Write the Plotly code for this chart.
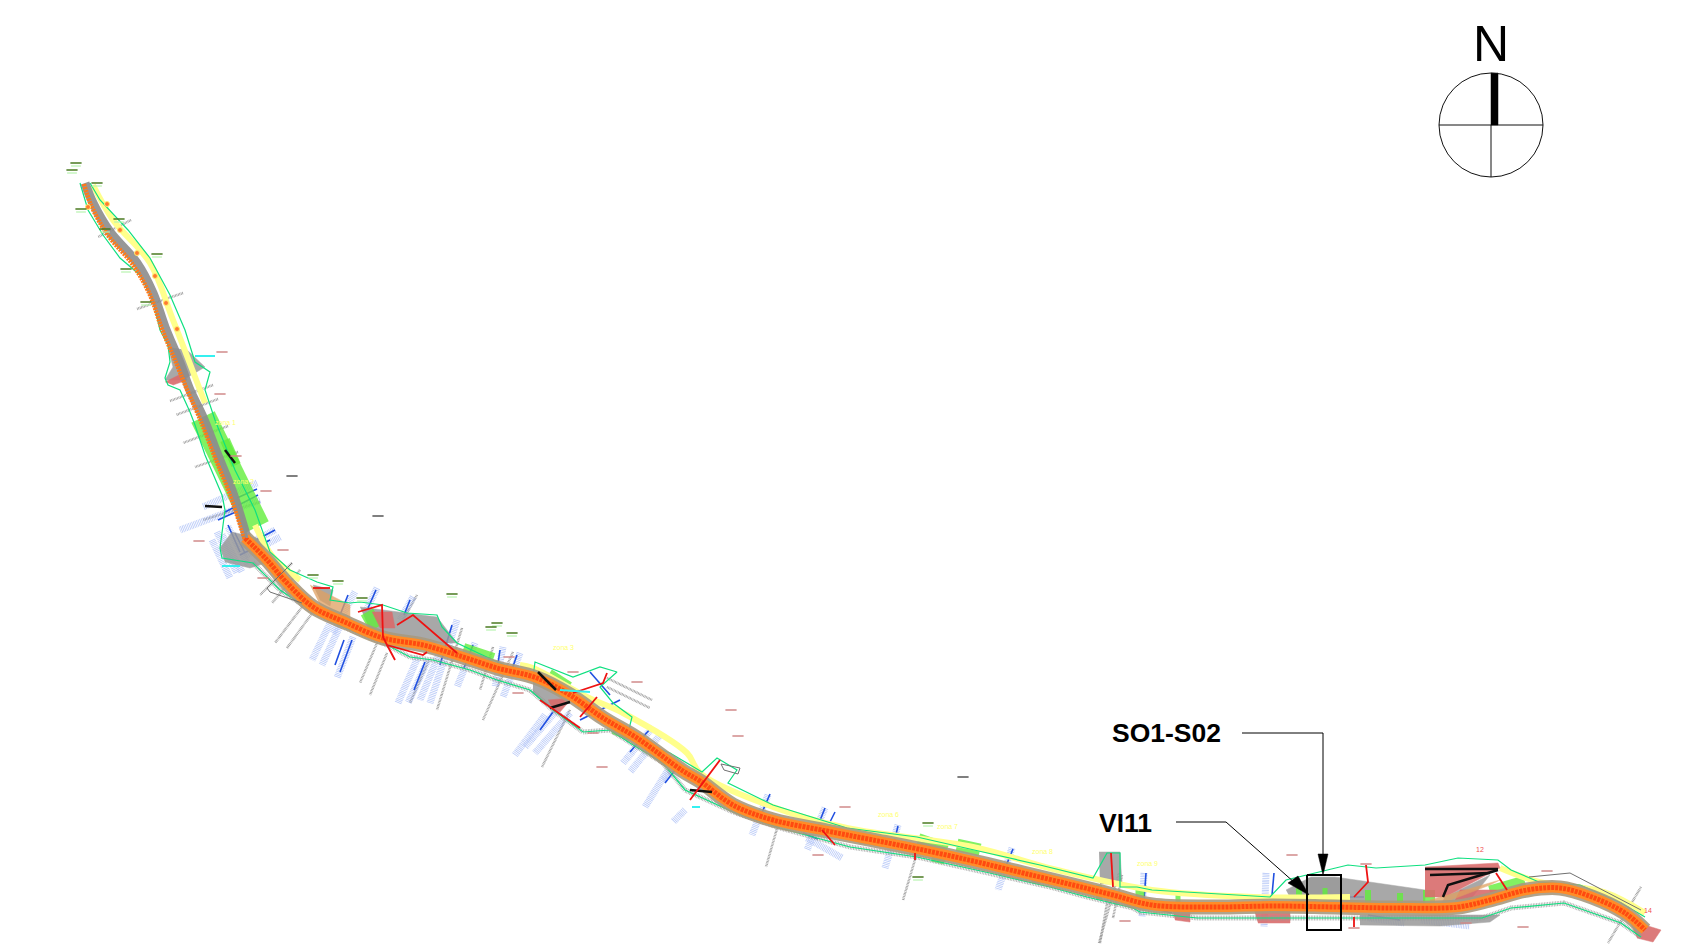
import plotly.graph_objects as go

# ---- road alignment (page pixels) ----
north_x = [85, 93, 110, 137, 153, 165, 180, 190, 203, 217, 233, 247]
north_y = [183, 203, 232, 263, 293, 327, 363, 390, 417, 453, 493, 538]
orange_north_x = [84, 91, 107, 133, 150, 162, 177, 188, 200, 214, 230, 245]
orange_north_y = [184, 205, 234, 265, 295, 329, 365, 392, 419, 455, 495, 540]
main_x = [245, 267, 287, 313, 347, 383, 423, 457, 497, 537, 570, 603, 637, 683, 700, 733, 773, 827, 873, 923,
          973, 1023, 1073, 1113, 1152, 1213, 1274, 1335, 1396, 1458, 1490, 1527, 1560, 1592, 1625, 1645]
main_y = [538, 560, 583, 607, 623, 638, 645, 655, 668, 678, 695, 718, 738, 771, 781, 805, 820, 831, 840, 850,
          861, 873, 885, 895, 905, 907, 906, 907, 908, 907, 900, 890, 888, 897, 913, 930]

yellow_x = [93, 113, 150, 173, 205, None, 255, 273, 300, None, 520, 533, 587, 623, 687, 700, 773, 847, 973, 1057,
            1152, 1254, 1350, None, 1500, 1539, 1604, 1645]
yellow_y = [185, 220, 263, 320, 403, None, 525, 557, 580, None, 665, 668, 697, 713, 753, 773, 807, 828, 847, 870,
            890, 897, 897, None, 868, 882, 892, 913]

env_low_x = [80, 88, 103, 120, 140, 153, 160, 168, 170, 165, 168, 180, 190, 195, 205, 222, 225, 220, 222, 253, 280, 310,
             343, 383, 410, 433, 470, 497, 530, 553, 583, 610, 630, 663, 685, 733, 780, 850, 917, 990, 1050, 1087, 1133,
             1140, 1197, 1258, 1315, 1384, 1482, 1511, 1564, 1621, 1641]
env_low_y = [183, 210, 235, 258, 275, 300, 330, 345, 362, 378, 385, 390, 412, 425, 455, 495, 510, 548, 558, 563, 590, 610,
             627, 643, 657, 660, 670, 680, 690, 710, 732, 730, 743, 763, 790, 812, 828, 847, 857, 873, 887, 897, 908,
             912, 918, 918, 918, 918, 918, 908, 903, 923, 937]
env_up_x = [90, 100, 128, 150, 170, 185, 195, 210, 205, 215, 235, 255, 270, 290, 317, 333, 330, 350, 360, 383, 407, 437,
            442, 457, 493, 533, 535, 573, 600, 617, 600, 613, 632, 627, 670, 702, 717, 737, 728, 773, 847, 917, 983, 1040,
            1093, 1107, 1120, 1120, 1137, 1152, 1270, 1286, 1348, 1376, 1425, 1458, 1498, 1511, 1539, 1580, 1621, 1645]
env_up_y = [183, 200, 230, 258, 295, 330, 362, 372, 390, 420, 470, 510, 552, 570, 582, 587, 600, 603, 602, 605, 613, 615,
            627, 643, 660, 677, 662, 677, 667, 672, 687, 703, 717, 737, 753, 772, 758, 770, 783, 805, 828, 837, 852, 865,
            878, 853, 853, 887, 887, 890, 897, 880, 865, 868, 865, 858, 860, 870, 882, 885, 903, 917]

# ---- filled works areas, one ring each ----
gray_areas = [
    ([168, 173, 165, 183, 205, 187], [347, 367, 380, 380, 367, 350]),
    ([220, 232, 265, 275, 250, 225], [548, 532, 540, 560, 568, 562]),
    ([360, 437, 457, 403, 370], [607, 617, 643, 643, 630]),
    ([313, 333, 330, 320], [585, 590, 606, 600]),
    ([533, 570, 553, 533], [670, 697, 710, 693]),
    ([1099, 1120, 1122, 1100], [852, 852, 884, 884]),
    ([1286, 1311, 1335, 1425, 1425, 1295], [890, 877, 877, 890, 903, 907]),
    ([1307, 1341, 1341, 1307], [878, 878, 900, 900]),
    ([1360, 1500, 1490, 1440, 1360], [915, 915, 922, 926, 925]),
    ([1445, 1490, 1470, 1440], [897, 875, 900, 905]),
]
pink_areas = [
    ([165, 183, 187, 173], [382, 373, 380, 385]),
    ([372, 392, 395, 380], [612, 612, 628, 628]),
    ([548, 572, 560, 552], [700, 698, 712, 708]),
    ([1425, 1498, 1500, 1445, 1425], [867, 863, 868, 897, 897]),
    ([1460, 1510, 1490, 1455], [890, 890, 898, 900]),
    ([1629, 1661, 1653, 1637], [920, 930, 942, 938]),
    ([1172, 1190, 1190, 1175], [908, 908, 922, 920]),
    ([1254, 1290, 1290, 1258], [910, 910, 923, 923]),
]
tan_areas = [
    ([1100, 1180, 1185, 1130], [890, 905, 912, 908]),
    ([1032, 1040, 1040, 1032], [875, 877, 884, 883]),
    ([852, 887, 880, 860], [838, 842, 846, 844]),
    ([310, 350, 350, 320], [585, 605, 620, 605]),
    ([1430, 1500, 1490, 1430], [900, 880, 885, 908]),
]

# ---- green bands: x0, y0, x1, y1, width ----
green_bands = [
    (203, 417, 257, 527, 26), (463, 650, 493, 660, 14), (547, 677, 567, 690, 18), (367, 612, 376, 628, 14),
    (613, 730, 630, 737, 8), (918, 840, 947, 850, 14), (957, 845, 980, 850, 13), (932, 857, 945, 860, 9),
    (1099, 885, 1099, 900, 6), (1140, 890, 1140, 908, 9), (1178, 890, 1178, 908, 5), (1299, 888, 1299, 908, 6),
    (1325, 888, 1325, 908, 5), (1368, 890, 1368, 910, 6), (1400, 893, 1400, 908, 6), (1429, 890, 1429, 910, 12),
    (1490, 892, 1525, 882, 13), (225, 440, 236, 465, 10),
]

# ---- leader and label bundles ----
light_blue_x0 = [333, 353, 355, 377, 413, 418, 428, 457, 475, 520, 503, 557, 570, 653, 673, 217, 228, 275, 280, 257, 260,
                 668, 685, 768, 825, 807, 898, 1012, 1144, 1266, 1368, 1421, 212, 222, 345, 445, 545, 660]
light_blue_y0 = [617, 637, 592, 588, 597, 657, 660, 620, 643, 653, 647, 710, 713, 727, 770, 532, 527, 530, 537, 483, 500,
                 770, 810, 795, 808, 838, 825, 848, 873, 873, 918, 920, 540, 535, 615, 640, 715, 735]
light_blue_x1 = [312, 337, 333, 365, 400, 398, 408, 430, 457, 503, 495, 525, 535, 623, 663, 237, 248, 240, 245, 203, 180,
                 645, 673, 752, 807, 842, 885, 998, 1142, 1264, 1405, 1470, 230, 242, 322, 420, 515, 630]
light_blue_y1 = [660, 678, 633, 613, 620, 703, 703, 703, 687, 697, 687, 747, 753, 763, 780, 573, 565, 548, 556, 507, 530,
                 807, 822, 835, 850, 858, 868, 890, 917, 927, 923, 926, 578, 572, 665, 700, 755, 772]
dark_blue_x0 = [348, 344, 352, 376, 410, 425, 452, 473, 517, 500, 553, 650, 235, 275, 257, 675, 770, 835, 825, 898, 1013,
                803, 1152, 1368, 1278, 1146, 1274, 610, 620, 228, 240, 270, 258]
dark_blue_y0 = [595, 640, 640, 590, 600, 662, 625, 645, 655, 650, 712, 729, 533, 530, 489, 770, 794, 812, 808, 826, 849,
                833, 908, 915, 897, 873, 873, 695, 700, 525, 510, 540, 495]
dark_blue_x1 = [338, 335, 340, 368, 404, 414, 440, 464, 510, 497, 540, 630, 245, 245, 237, 665, 760, 825, 817, 893, 1003,
                818, 1172, 1400, 1364, 1144, 1272, 590, 580, 240, 218, 240, 225]
dark_blue_y1 = [620, 665, 672, 608, 615, 690, 665, 668, 675, 670, 730, 752, 553, 546, 498, 783, 817, 832, 828, 847, 873,
                839, 913, 920, 897, 900, 895, 672, 720, 552, 520, 555, 512]
gray_x0 = [131, 183, 213, 218, 228, 238, 260, 292, 300, 302, 313, 377, 387, 417, 428, 462, 493, 513, 570, 607, 607, 778,
           917, 1108, 1122, 1119, 1641]
gray_y0 = [220, 293, 385, 399, 426, 452, 502, 563, 570, 607, 612, 643, 653, 595, 662, 628, 647, 652, 710, 678, 687, 825,
           853, 898, 875, 873, 887]
gray_x1 = [98, 137, 170, 176, 183, 195, 203, 260, 272, 275, 287, 360, 370, 403, 410, 437, 480, 483, 542, 652, 650, 766,
           903, 1100, 1113, 1099, 1608]
gray_y1 = [237, 309, 401, 415, 443, 467, 520, 595, 603, 643, 648, 683, 695, 620, 703, 710, 690, 720, 767, 700, 708, 867,
           900, 943, 918, 943, 943]

# ---- polylines ----
red_paths = [
    ([313, 330], [588, 588]), ([358, 382, 383, 387, 423, 427], [612, 605, 637, 645, 655, 652]),
    ([387, 395], [645, 660]), ([397, 413, 457], [625, 615, 653]), ([540, 580], [700, 728]),
    ([573, 603, 607], [693, 683, 673]), ([580, 597], [717, 697]), ([690, 720], [800, 760]),
    ([915, 915], [853, 860]), ([1111, 1113], [853, 887]), ([1354, 1368, 1366], [897, 882, 865]),
    ([1354, 1354], [917, 927]), ([1496, 1507], [873, 890]), ([822, 835], [830, 845]),
]
black_paths = [
    ([1425, 1498], [869, 869]), ([1443, 1448, 1498], [897, 885, 870]), ([1430, 1490], [875, 873]),
    ([225, 235], [450, 463]), ([538, 556], [672, 690]), ([550, 570], [708, 702]), ([205, 222], [506, 507]),
    ([690, 712], [790, 792]),
]
gray_paths = [
    ([292, 267, 270, 302], [563, 588, 592, 603]), ([1529, 1570, 1641], [877, 873, 910]),
    ([721, 740, 738, 724, 721], [764, 768, 774, 770, 764]),
]
cyan_paths = [([195, 215], [356, 356]), ([560, 590], [690, 692]), ([692, 700], [807, 807]), ([222, 240], [566, 566])]

# ---- tags and labels ----
pink_tag_x = [222, 220, 266, 199, 283, 236, 263, 509, 518, 637, 593, 602, 573, 731, 738, 845, 818, 1125, 1292, 1366, 1354,
              1547, 1523, 1466]
pink_tag_y = [352, 394, 491, 541, 550, 456, 578, 657, 693, 682, 733, 767, 672, 710, 736, 807, 855, 921, 855, 864, 928,
              871, 927, 923]
green_tag_x = [76, 72, 97, 81, 119, 105, 157, 126, 146, 313, 338, 362, 452, 497, 491, 512, 928, 918]
green_tag_y = [163, 170, 183, 209, 219, 229, 254, 269, 302, 575, 581, 598, 594, 623, 627, 633, 823, 877]
black_tag_x = [292, 378, 963]
black_tag_y = [476, 516, 777]
dot_x = [88, 107, 120, 137, 155, 166, 177]
dot_y = [207, 204, 230, 253, 276, 303, 329]
zone_labels = ["zona 1", "zona 2", "zona 3", "zona 6", "zona 7", "zona 8", "zona 9"]
zone_x = [225, 243, 563, 888, 947, 1042, 1147]
zone_y = [422, 481, 647, 814, 826, 851, 863]
number_labels = ["12", "14"]
number_x = [1480, 1648]
number_y = [849, 910]

# ---- callouts and compass ----
box_x = [1307, 1341, 1341, 1307, 1307]
box_y = [875, 875, 930, 930, 875]
so_leader_x = [1242, 1323, 1323]
so_leader_y = [733, 733, 860]
so_head_x = [1318, 1328, 1323, 1318]
so_head_y = [854, 854, 875, 854]
vi_leader_x = [1176, 1226, 1295]
vi_leader_y = [822, 822, 883]
vi_head_x = [1288, 1298, 1309, 1288]
vi_head_y = [883, 876, 895, 883]
callout_text = ["SO1-S02", "VI11"]
callout_x = [1166, 1125.5]
callout_y = [733, 823]
compass_cx, compass_cy, compass_r = 1491, 125, 52
needle_x = [1491, 1498, 1498, 1491, 1491]
needle_y = [73, 73, 125, 125, 73]

fig = go.Figure()


def line(x, y, color, width, dash=None, opacity=1.0, shape="linear"):
    fig.add_trace(go.Scatter(x=x, y=y, mode="lines", opacity=opacity, hoverinfo="skip",
                             line=dict(color=color, width=width, dash=dash, shape=shape)))


def area(x, y, color, opacity=1.0):
    fig.add_trace(go.Scatter(x=x, y=y, mode="lines", fill="toself", fillcolor=color, opacity=opacity,
                             hoverinfo="skip", line=dict(color=color, width=0.5)))


def segments(x0, y0, x1, y1):
    xs, ys = [], []
    for a, b, c, d in zip(x0, y0, x1, y1):
        xs += [a, c, None]
        ys += [b, d, None]
    return xs, ys


def tags(x, y, color, size, width):
    fig.add_trace(go.Scatter(x=x, y=y, mode="markers", hoverinfo="skip",
                             marker=dict(symbol="line-ew", size=size, line=dict(color=color, width=width))))


# label bundles below the road
xs, ys = segments(gray_x0, gray_y0, gray_x1, gray_y1)
line(xs, ys, "#8a8a8a", 2.5, "0.8px,0.7px", 0.85)
xs, ys = segments(light_blue_x0, light_blue_y0, light_blue_x1, light_blue_y1)
line(xs, ys, "#8aa6f4", 7, "0.8px,0.9px", 0.6)
xs, ys = segments(dark_blue_x0, dark_blue_y0, dark_blue_x1, dark_blue_y1)
line(xs, ys, "#1f4fe0", 1.6)

# works areas
for x, y in gray_areas:
    area(x, y, "#9a9a9a", 0.85)
for b in green_bands:
    line([b[0], b[2]], [b[1], b[3]], "#62ee3c", b[4], None, 0.8)
line(yellow_x, yellow_y, "#ffff8c", 6, shape="spline")
for x, y in pink_areas:
    area(x, y, "#d96c6c", 0.9)
for x, y in tan_areas:
    area(x, y, "#e0a060", 0.75)
line(env_low_x[19:], env_low_y[19:], "#9a9a9a", 5, "0.8px,0.8px", 0.8)
line(env_low_x, env_low_y, "#0fe080", 1.2)
line(env_up_x, env_up_y, "#0fe080", 1.2)

# the road
line(north_x, north_y, "#8c8c8c", 9, None, 0.9, "spline")
line(orange_north_x, orange_north_y, "#ff7a18", 4.5, "2px,1px", 1, "spline")
line(main_x, main_y, "#a89a80", 15, None, 0.9, "spline")
line(main_x, main_y, "#ff8c28", 10, None, 1, "spline")
line(main_x, main_y, "#ff4a10", 5, "3px,1px", 1, "spline")
line(north_x[8:], north_y[8:], "#8f8f8f", 2.5, None, 1, "spline")

for x, y in gray_paths:
    line(x, y, "#707070", 1)
for x, y in black_paths:
    line(x, y, "#101010", 2.5)
for x, y in red_paths:
    line(x, y, "#ee1212", 1.8)
for x, y in cyan_paths:
    line(x, y, "#35f0f0", 2)

fig.add_trace(go.Scatter(x=dot_x, y=dot_y, mode="markers", hoverinfo="skip",
                         marker=dict(size=5, color="#ff7a30", line=dict(color="#ffee70", width=1))))
tags(pink_tag_x, pink_tag_y, "#d08a8a", 8, 1.5)
tags(green_tag_x, [v + 3 for v in green_tag_y], "#b8f4b0", 7, 1.2)
tags(green_tag_x, green_tag_y, "#4a7a20", 8, 1.5)
tags(black_tag_x, black_tag_y, "#555555", 8, 1.5)

# callouts
line(box_x, box_y, "#000000", 2)
line(so_leader_x, so_leader_y, "#000000", 1)
line(vi_leader_x, vi_leader_y, "#000000", 1)
area(so_head_x, so_head_y, "#000000")
area(vi_head_x, vi_head_y, "#000000")

# compass
fig.add_shape(type="circle", x0=compass_cx - compass_r, x1=compass_cx + compass_r,
              y0=compass_cy - compass_r, y1=compass_cy + compass_r, line=dict(color="#111111", width=1))
line([compass_cx - compass_r, compass_cx + compass_r], [compass_cy, compass_cy], "#111111", 1)
line([compass_cx, compass_cx], [compass_cy, compass_cy + compass_r], "#111111", 1)
area(needle_x, needle_y, "#000000")

annotations = []
for t, x, y in zip(zone_labels, zone_x, zone_y):
    annotations.append(dict(x=x, y=y, text=t, showarrow=False, font=dict(family="Liberation Sans", size=7, color="#ffff70")))
for t, x, y in zip(number_labels, number_x, number_y):
    annotations.append(dict(x=x, y=y, text=t, showarrow=False, font=dict(family="Liberation Sans", size=7, color="#f05050")))
for t, x, y in zip(callout_text, callout_x, callout_y):
    annotations.append(dict(x=x, y=y, text="<b>" + t + "</b>", showarrow=False,
                            font=dict(family="Liberation Sans", size=26.5, color="#000000")))
annotations.append(dict(x=1490.5, y=44, text="N", showarrow=False, font=dict(family="Liberation Sans", size=50, color="#000000")))

fig.update_layout(
    width=1689, height=944, showlegend=False, plot_bgcolor="white", paper_bgcolor="white",
    margin=dict(l=0, r=0, t=0, b=0), annotations=annotations,
    xaxis=dict(range=[0, 1689], visible=False, fixedrange=True),
    yaxis=dict(range=[944, 0], visible=False, fixedrange=True),
)
fig.write_html("out.html", config=dict(displayModeBar=False),
               post_script="document.body.style.margin='0';document.body.style.overflow='hidden';")
